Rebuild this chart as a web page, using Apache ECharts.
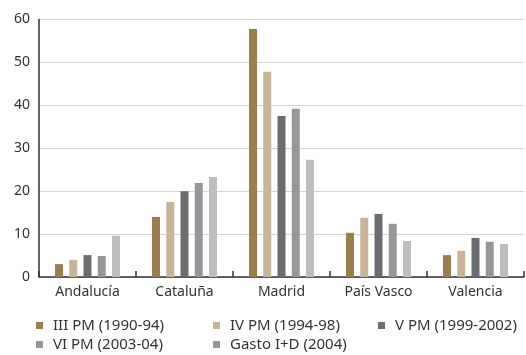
<!DOCTYPE html>
<html>
<head>
<meta charset="utf-8">
<script src="https://cdn.jsdelivr.net/npm/echarts@6/dist/echarts.min.js"></script>
<style>
  html, body { margin: 0; padding: 0; background: #fff; }
  #chart { width: 526px; height: 355px; }
</style>
</head>
<body>
<div id="chart"></div>
<script>
// Regions (x axis)
var categories = ['Andalucía', 'Cataluña', 'Madrid', 'País Vasco', 'Valencia'];

// Series names
var seriesNames = ['III PM (1990-94)', 'IV PM (1994-98)', 'V PM (1999-2002)', 'VI PM (2003-04)', 'Gasto I+D (2004)'];

// Values per series, one per region
var iiiPM   = [3.0, 14.0, 57.8, 10.3, 5.1];
var ivPM    = [4.0, 17.5, 47.8, 13.8, 6.1];
var vPM     = [5.1, 20.0, 37.5, 14.7, 9.1];
var viPM    = [4.9, 21.9, 39.2, 12.4, 8.2];
var gastoID = [9.6, 23.3, 27.3, 8.4, 7.7];

// Y axis ticks
var yTicks = [0, 10, 20, 30, 40, 50, 60];

var colors = ['#9b7d4f', '#c8b598', '#6c6d71', '#96979b', '#bdbec2'];
var legendColors = ['#9b7d4f', '#c8b598', '#6c6d71', '#96979b', '#96979b'];
var values = [iiiPM, ivPM, vPM, viPM, gastoID];

var fontFamily = 'Noto Sans';
var textColor = '#333';

var series = seriesNames.map(function (name, i) {
  return {
    name: name,
    type: 'bar',
    data: values[i],
    barWidth: 8,
    barGap: '78%',
    itemStyle: { color: colors[i] },
    emphasis: { disabled: true }
  };
});

// Legend laid out as a two-row grid
var legendSpots = [
  { left: 36, top: 318 },
  { left: 213, top: 318 },
  { left: 378, top: 318 },
  { left: 36, top: 337 },
  { left: 213, top: 337 }
];
var legends = seriesNames.map(function (name, i) {
  return {
    left: legendSpots[i].left,
    top: legendSpots[i].top,
    padding: 0,
    icon: 'rect',
    itemWidth: 7,
    itemHeight: 7,
    selectedMode: false,
    data: [{ name: name, itemStyle: { color: legendColors[i] } }],
    textStyle: { fontFamily: fontFamily, fontSize: 15, color: textColor, padding: [0, 0, 0, 5] }
  };
});

var chart = echarts.init(document.getElementById('chart'), null, { renderer: 'canvas' });
chart.setOption({
  animation: false,
  backgroundColor: '#fff',
  grid: { left: 39, right: 2, top: 19.5, bottom: 78, containLabel: false },
  legend: legends,
  xAxis: {
    type: 'category',
    data: categories,
    boundaryGap: true,
    axisLine: { show: true, lineStyle: { color: '#333', width: 1.5 } },
    axisTick: { show: true, inside: true, length: 6, lineStyle: { color: '#333', width: 1.5 } },
    axisLabel: { fontFamily: fontFamily, fontSize: 14, color: textColor, margin: 8 }
  },
  yAxis: {
    type: 'value',
    min: yTicks[0],
    max: yTicks[yTicks.length - 1],
    interval: 10,
    axisLine: { show: true, lineStyle: { color: '#333', width: 1.5 } },
    axisTick: { show: false },
    axisLabel: { fontFamily: fontFamily, fontSize: 14, color: textColor, margin: 9 },
    splitLine: { show: true, lineStyle: { color: '#d4d4d4', width: 1 } }
  },
  series: series
});
</script>
</body>
</html>
